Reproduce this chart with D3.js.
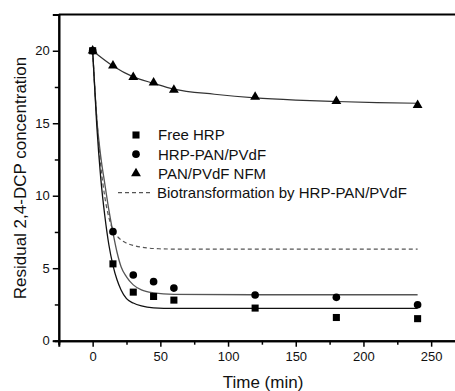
<!DOCTYPE html>
<html>
<head>
<meta charset="utf-8">
<script src="https://cdn.jsdelivr.net/npm/d3@7"></script>
<style>
  body { margin: 0; background: #fff; }
  text { font-family: "Liberation Sans", Arial, sans-serif; fill: #111; }
</style>
</head>
<body>
<div id="chart"></div>
<script>
// measured points
const times = [0, 15, 30, 45, 60, 120, 180, 240];
const freeHRP = [20, 5.3, 3.35, 3.05, 2.8, 2.25, 1.6, 1.52];
const hrpPan = [20, 7.52, 4.53, 4.07, 3.63, 3.15, 2.99, 2.48];
const panNfm = [20, 18.97, 18.17, 17.8, 17.3, 16.82, 16.52, 16.24];

// fitted curves [time, value]
const fitFree = [[0, 20], [3, 14.9], [6, 11.2], [9, 8.6], [12, 6.6], [15, 5.2], [18, 4.2], [21, 3.5],
  [25, 2.9], [30, 2.6], [36, 2.4], [45, 2.27], [60, 2.23], [120, 2.23], [240, 2.23]];
const fitPan = [[0, 20], [3, 15.4], [6, 12.7], [9, 10.8], [12, 9.0], [15, 7.45], [18, 6.1], [21, 5.1],
  [25, 4.4], [30, 3.85], [36, 3.5], [45, 3.3], [60, 3.2], [120, 3.17], [240, 3.17]];
const fitNfm = [[0, 20], [15, 18.95], [30, 18.2], [45, 17.75], [60, 17.35], [90, 17.0], [120, 16.75],
  [150, 16.6], [180, 16.5], [210, 16.42], [240, 16.38]];
const fitBio = [[0, 20], [3, 15.4], [6, 12.1], [9, 9.9], [12, 8.5], [15, 7.65], [19, 7.12], [24, 6.78],
  [31, 6.55], [40, 6.4], [50, 6.34], [60, 6.32], [240, 6.32]];

const legendItems = ['Free HRP', 'HRP-PAN/PVdF', 'PAN/PVdF NFM', 'Biotransformation by HRP-PAN/PVdF'];

const width = 455, height = 391;
const svg = d3.select('#chart').append('svg')
  .attr('width', width)
  .attr('height', height);

const x = d3.scaleLinear().domain([-25, 270]).range([58.8, 58.8 + 295 * 1.354]);
const y = d3.scaleLinear().domain([0, 22.5]).range([340.7, 14.5]);

// axes
const xAxis = svg.append('g')
  .attr('transform', `translate(0,${y(0)})`)
  .call(d3.axisBottom(x).tickValues([0, 50, 100, 150, 200, 250]).tickSize(6).tickPadding(5));
svg.append('g')
  .attr('transform', `translate(0,${y(0)})`)
  .call(d3.axisBottom(x).tickValues([-25, 25, 75, 125, 175, 225]).tickSize(4).tickFormat(''));

const yAxis = svg.append('g')
  .attr('transform', `translate(${x(-25)},0)`)
  .call(d3.axisLeft(y).tickValues([0, 5, 10, 15, 20]).tickSize(6).tickPadding(3));
svg.append('g')
  .attr('transform', `translate(${x(-25)},0)`)
  .call(d3.axisLeft(y).tickValues([2.5, 7.5, 12.5, 17.5]).tickSize(4).tickFormat(''));

svg.selectAll('.domain').attr('stroke', '#000').attr('stroke-width', 2);
svg.selectAll('.tick line').attr('stroke', '#000').attr('stroke-width', 1.5);
svg.selectAll('.tick text').style('font-size', '13px').attr('fill', '#111')
  .style('font-family', '"Liberation Sans", Arial, sans-serif');

// top spine
svg.append('line')
  .attr('x1', x(-25)).attr('x2', width + 5)
  .attr('y1', y(22.5)).attr('y2', y(22.5))
  .attr('stroke', '#000').attr('stroke-width', 2);

// axis labels
svg.append('text')
  .attr('x', 263).attr('y', 388)
  .attr('text-anchor', 'middle')
  .style('font-size', '17px')
  .text('Time (min)');

svg.append('text')
  .attr('transform', 'rotate(-90)')
  .attr('x', -178).attr('y', 26)
  .attr('text-anchor', 'middle')
  .style('font-size', '17px')
  .text('Residual 2,4-DCP concentration');

// fitted curves
const line = d3.line()
  .x(d => x(d[0]))
  .y(d => y(d[1]))
  .curve(d3.curveMonotoneX);

svg.append('path').datum(fitBio).attr('d', line)
  .attr('fill', 'none').attr('stroke', '#555').attr('stroke-width', 1.2)
  .attr('stroke-dasharray', '4,3');
svg.append('path').datum(fitNfm).attr('d', line)
  .attr('fill', 'none').attr('stroke', '#333').attr('stroke-width', 1.2);
svg.append('path').datum(fitPan).attr('d', line)
  .attr('fill', 'none').attr('stroke', '#555').attr('stroke-width', 1.3);
svg.append('path').datum(fitFree).attr('d', line)
  .attr('fill', 'none').attr('stroke', '#111').attr('stroke-width', 1.3);

// markers
const tri = d3.symbol().type(d3.symbolTriangle).size(42);
const circ = d3.symbol().type(d3.symbolCircle).size(46);
const sq = d3.symbol().type(d3.symbolSquare).size(50);

svg.selectAll('.tri').data(times).enter().append('path')
  .attr('class', 'tri')
  .attr('transform', (d, i) => `translate(${x(d)},${y(panNfm[i])})`)
  .attr('d', tri).attr('fill', '#000');
svg.selectAll('.circ').data(times).enter().append('path')
  .attr('class', 'circ')
  .attr('transform', (d, i) => `translate(${x(d)},${y(hrpPan[i])})`)
  .attr('d', circ).attr('fill', '#000');
svg.selectAll('.sq').data(times).enter().append('path')
  .attr('class', 'sq')
  .attr('transform', (d, i) => `translate(${x(d)},${y(freeHRP[i])})`)
  .attr('d', sq).attr('fill', '#000');

// legend
const legend = svg.append('g');
const rowY = i => 135 + i * 19.2;
const symbols = [sq, circ, tri];
legendItems.forEach((label, i) => {
  if (i < 3) {
    legend.append('path')
      .attr('transform', `translate(136,${rowY(i)})`)
      .attr('d', symbols[i]).attr('fill', '#000');
  } else {
    legend.append('line')
      .attr('x1', 118).attr('x2', 153)
      .attr('y1', rowY(i)).attr('y2', rowY(i))
      .attr('stroke', '#555').attr('stroke-width', 1.2)
      .attr('stroke-dasharray', '4,3');
  }
  legend.append('text')
    .attr('x', i < 3 ? 158 : 157)
    .attr('y', rowY(i) + 5.3)
    .style('font-size', '15px')
    .text(label);
});
</script>
</body>
</html>
